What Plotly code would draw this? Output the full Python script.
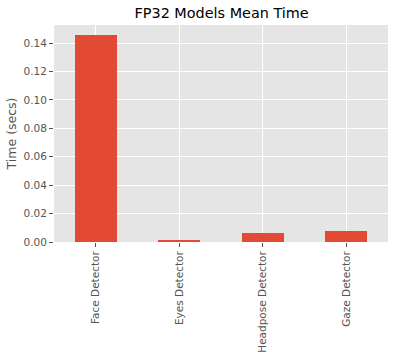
import plotly.graph_objects as go

categories = ["Face Detector", "Eyes Detector", "Headpose Detector", "Gaze Detector"]
mean_times = [0.1455, 0.0014, 0.0063, 0.0077]
y_ticks = [0.00, 0.02, 0.04, 0.06, 0.08, 0.10, 0.12, 0.14]
y_tick_labels = [f"{v:.2f}" for v in y_ticks]

fig = go.Figure(go.Bar(
    x=categories, y=mean_times, width=0.5,
    marker=dict(color="#E24A33", line=dict(width=0)),
))

font_family = "DejaVu Sans"
fig.update_layout(
    width=395, height=352,
    margin=dict(l=54, r=7, t=25, b=110),
    paper_bgcolor="white", plot_bgcolor="#E5E5E5",
    font=dict(family=font_family, color="#555555", size=10),
    title=dict(text="FP32 Models Mean Time", x=0.561, xanchor="center",
               y=0.963, yanchor="middle",
               font=dict(size=14.4, color="black", family=font_family)),
    showlegend=False,
    bargap=0,
    annotations=[dict(text="Time (secs)", textangle=-90, xref="paper", yref="paper",
                      x=-0.126, y=0.5, xanchor="center", yanchor="middle",
                      showarrow=False, font=dict(size=12.5, color="#555555"))],
)
fig.update_xaxes(
    range=[-0.5, 3.5], tickangle=-90, ticks="outside", ticklen=4,
    tickcolor="#555555", showgrid=True, gridcolor="white", gridwidth=1,
    showline=False, zeroline=False, tickfont=dict(size=10.5, color="#555555"),
    automargin=False,
)
fig.update_yaxes(
    range=[0, 0.1528], tickvals=y_ticks, ticktext=y_tick_labels,
    ticks="outside", ticklen=4, tickcolor="#555555",
    showgrid=True, gridcolor="white", gridwidth=1, zeroline=False,
    showline=False, tickfont=dict(size=10.5, color="#555555"),
    automargin=False,
)
fig.write_html("out.html")
